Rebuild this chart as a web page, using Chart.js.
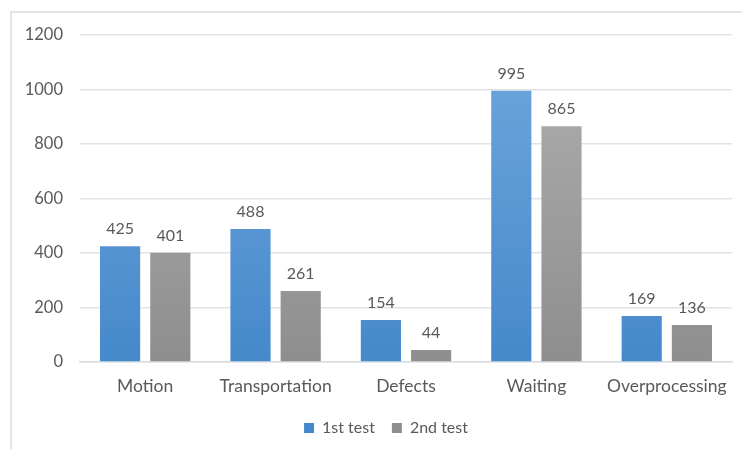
<!DOCTYPE html>
<html>
<head>
<meta charset="utf-8">
<script src="https://cdn.jsdelivr.net/npm/chart.js@4.4.0/dist/chart.umd.min.js"></script>
<style>
  html, body { margin: 0; padding: 0; background: #fff; }
  #wrap { position: relative; width: 742px; height: 449px; overflow: hidden; }
  #frame { position: absolute; left: 10px; top: 11px; width: 800px; height: 500px; border: 2px solid #e1e5ea; box-sizing: border-box; }
  canvas { position: absolute; left: 0; top: 0; }
</style>
</head>
<body>
<div id="wrap">
  <div id="frame"></div>
  <canvas id="myChart" width="742" height="449"></canvas>
</div>
<script>
var categories = ['Motion', 'Transportation', 'Defects', 'Waiting', 'Overprocessing'];
var firstTest = [425, 488, 154, 995, 169];
var secondTest = [401, 261, 44, 865, 136];
var seriesNames = ['1st test', '2nd test'];

var textColor = '#595959';
var fontFamily = 'Lato, "Open Sans", sans-serif';

function barFill(top, bottom, flat) {
  return function (context) {
    var chart = context.chart;
    var area = chart.chartArea;
    if (!area) return flat;
    var g = chart.ctx.createLinearGradient(0, area.top, 0, area.bottom);
    g.addColorStop(0, top);
    g.addColorStop(1, bottom);
    return g;
  };
}

// writes each bar's value above it
var valueLabels = {
  id: 'valueLabels',
  afterDatasetsDraw: function (chart) {
    var ctx = chart.ctx;
    ctx.save();
    ctx.font = '16px ' + fontFamily;
    ctx.fillStyle = textColor;
    ctx.textAlign = 'center';
    ctx.textBaseline = 'bottom';
    chart.data.datasets.forEach(function (ds, i) {
      chart.getDatasetMeta(i).data.forEach(function (bar, j) {
        ctx.fillText(ds.data[j], bar.x, bar.y - 9);
      });
    });
    ctx.restore();
  }
};

// centre the legend under the plot area rather than the whole canvas
var legendShift = {
  id: 'legendShift',
  afterLayout: function (chart) {
    var lg = chart.legend;
    if (!lg) return;
    var dx = (chart.chartArea.left + chart.chartArea.right) / 2 - 20 - (lg.left + lg.right) / 2;
    lg.left += dx;
    lg.right += dx;
  }
};

var ctx = document.getElementById('myChart');
var myChart = new Chart(ctx, {
  type: 'bar',
  data: {
    labels: categories,
    datasets: [{
      label: seriesNames[0],
      data: firstTest,
      backgroundColor: barFill('#71a7dd', '#4589cb', '#5b9bd5')
    }, {
      label: seriesNames[1],
      data: secondTest,
      backgroundColor: barFill('#b0b0b0', '#8e8e8e', '#a5a5a5')
    }]
  },
  options: {
    responsive: false,
    animation: false,
    layout: {
      padding: { left: 0, right: 10, top: 35, bottom: 3 }
    },
    datasets: {
      bar: { categoryPercentage: 0.77, barPercentage: 0.8 }
    },
    scales: {
      x: {
        grid: { display: false },
        border: { color: '#d9dde3', width: 1.5 },
        ticks: { color: textColor, font: { family: fontFamily, size: 17.5 }, padding: 6 }
      },
      y: {
        min: 0,
        max: 1200,
        afterFit: function (scale) { scale.width = 80; },
        border: { display: false },
        grid: { color: '#dfe3e8', lineWidth: 1.5, drawTicks: false },
        ticks: {
          stepSize: 200,
          color: textColor,
          font: { family: fontFamily, size: 16.5 },
          padding: 17,
          callback: function (v) { return String(v); }
        }
      }
    },
    plugins: {
      tooltip: { enabled: false },
      legend: {
        position: 'bottom',
        labels: {
          color: textColor,
          font: { family: fontFamily, size: 16 },
          boxWidth: 10,
          boxHeight: 10,
          padding: 17
        }
      }
    }
  },
  plugins: [valueLabels, legendShift]
});
</script>
</body>
</html>
